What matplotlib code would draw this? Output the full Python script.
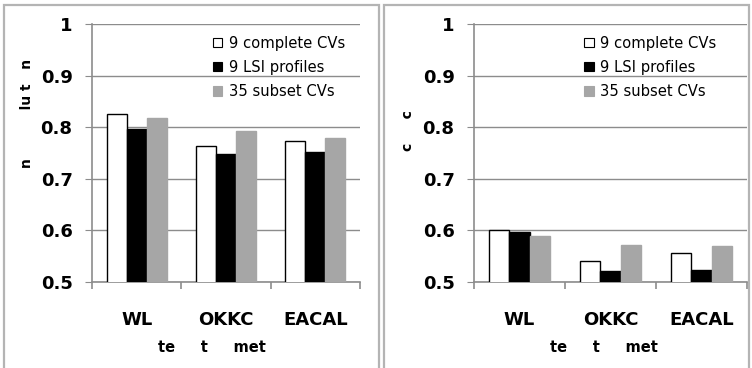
import matplotlib
matplotlib.use("Agg")
import matplotlib.pyplot as plt
from matplotlib.patches import Rectangle, Patch
import numpy as np

plt.rcParams['font.family'] = ['DejaVu Sans']

# data
methods = ["WL", "OKKC", "EACAL"]
series_names = ["9 complete CVs", "9 LSI profiles", "35 subset CVs"]
left_vals = [
    [0.825, 0.763, 0.774],   # 9 complete CVs
    [0.797, 0.749, 0.751],   # 9 LSI profiles
    [0.817, 0.792, 0.780],   # 35 subset CVs
]
right_vals = [
    [0.600, 0.541, 0.556],
    [0.597, 0.521, 0.523],
    [0.589, 0.572, 0.570],
]
yticks = [0.5, 0.6, 0.7, 0.8, 0.9, 1.0]
ytick_labels = ["0.5", "0.6", "0.7", "0.8", "0.9", "1"]

face_cols = ["white", "black", "#a6a6a6"]
edge_cols = ["black", "black", "#a6a6a6"]
grid_col = "#8c8c8c"

W, H = 752, 368
fig = plt.figure(figsize=(W / 100, H / 100), dpi=100)

# panel frames (pixel coords, origin top-left)
def frame(x0, y0, x1, y1):
    fig.patches.append(Rectangle((x0 / W, 1 - y1 / H), (x1 - x0) / W, (y1 - y0) / H,
                                 transform=fig.transFigure, fill=False,
                                 edgecolor="#b4b4b4", linewidth=1.6))

frame(4, 5, 379, 380)
frame(384, 5, 749, 380)


def draw_panel(left_px, right_px, vals, leg_x):
    top_px, bot_px = 24, 282
    ax = fig.add_axes([left_px / W, 1 - bot_px / H, (right_px - left_px) / W, (bot_px - top_px) / H])
    x = np.arange(len(methods))
    w = 0.225
    for i, v in enumerate(vals):
        ax.bar(x + (i - 1) * w, v, width=w, bottom=0, color=face_cols[i],
               edgecolor=edge_cols[i], linewidth=1.0, label=series_names[i], zorder=3)
    ax.set_ylim(0.5, 1.0)
    ax.set_xlim(-0.5, 2.5)
    ax.set_yticks(yticks)
    ax.set_yticklabels(ytick_labels, fontsize=13, fontweight="bold")
    ax.yaxis.grid(True, color=grid_col, linewidth=1.0, zorder=0)
    ax.set_axisbelow(True)
    for s in ["top", "right"]:
        ax.spines[s].set_visible(False)
    for s in ["left", "bottom"]:
        ax.spines[s].set_color(grid_col)
        ax.spines[s].set_linewidth(1.2)
    ax.tick_params(axis="y", length=5, color=grid_col, pad=9)
    ax.set_xticks(x)
    ax.set_xticklabels(methods, fontsize=13, fontweight="bold")
    ax.tick_params(axis="x", which="major", length=0, pad=21)
    ax.set_xticks([-0.5, 0.5, 1.5, 2.5], minor=True)
    ax.tick_params(axis="x", which="minor", length=5, color=grid_col, width=1.2)

    handles = [Patch(facecolor=face_cols[i], edgecolor=edge_cols[i], linewidth=0.8)
               for i in range(3)]
    ax.legend(handles, series_names, loc="upper left", bbox_to_anchor=(leg_x, 0.955),
              frameon=False, fontsize=10.6, handlelength=0.65, handleheight=0.65,
              handletextpad=0.45, labelspacing=0.62, borderpad=0, borderaxespad=0)
    return ax


ax1 = draw_panel(92, 360, left_vals, 0.451)
ax2 = draw_panel(474, 747, right_vals, 0.403)

# axis captions
fig.text(212 / W, 1 - 348 / H, "te     t     met", ha="center", va="center",
         fontsize=10.5, fontweight="bold")
fig.text(604 / W, 1 - 348 / H, "te     t     met", ha="center", va="center",
         fontsize=10.5, fontweight="bold")
fig.text(27 / W, 1 - 113 / H, "n          lu t   n", ha="center", va="center",
         rotation=90, fontsize=10, fontweight="bold")
fig.text(408 / W, 1 - 131 / H, "c     c", ha="center", va="center",
         rotation=90, fontsize=10, fontweight="bold")

fig.savefig("out.png", dpi=100)
